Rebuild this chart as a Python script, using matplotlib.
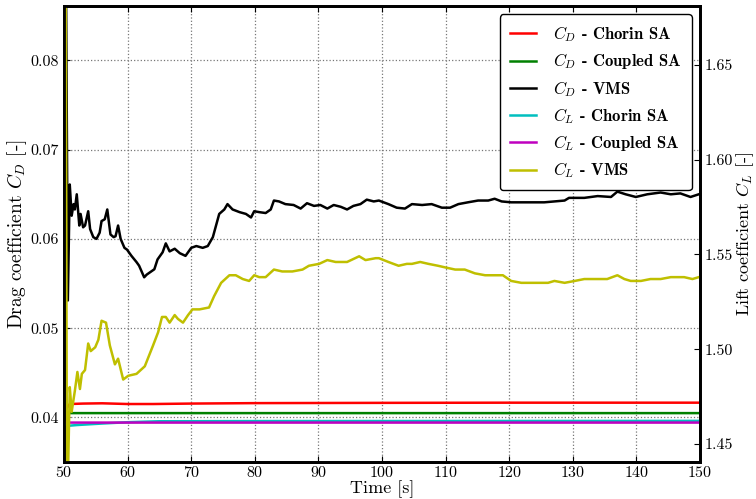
import numpy as np
import matplotlib
matplotlib.use('Agg')
import matplotlib.pyplot as plt

plt.rcParams['font.family'] = 'cmr10'
plt.rcParams['mathtext.fontset'] = 'cm'
plt.rcParams['axes.formatter.use_mathtext'] = True

# drag coefficient, left axis
t_cd_chorin = [50.5, 50.9, 53, 56, 60, 64, 70, 80, 100, 120, 150]
cd_chorin = [0.0411, 0.0415, 0.04155, 0.04158, 0.0415, 0.0415, 0.04155, 0.0416, 0.04163, 0.04165, 0.04165]

t_cd_coupled = [50.5, 51.0, 150]
cd_coupled = [0.0405, 0.04048, 0.04048]

t_cd_vms = [50.3, 50.6, 50.9, 51.2, 51.5, 51.7, 52.0, 52.4, 52.6, 53.0, 53.3, 53.8, 54.1, 54.6, 55.1,
            55.6, 55.9, 56.4, 56.8, 57.3, 57.8, 58.1, 58.5, 58.9, 59.5, 59.9, 60.6, 61.4, 61.8, 62.6,
            63.0, 64.2, 64.7, 65.5, 66.0, 66.6, 67.4, 68.2, 69.1, 70.0, 70.8, 71.8, 72.6, 73.4, 74.4,
            75.2, 75.7, 76.5, 77.6, 78.6, 79.4, 79.9, 80.7, 81.7, 82.5, 83.0, 83.8, 84.8, 86.1, 87.2,
            88.2, 89.3, 90.3, 91.4, 92.4, 93.5, 94.5, 95.5, 96.6, 97.6, 98.7, 99.5, 101.0, 102.3, 103.6,
            104.7, 106.3, 107.8, 109.4, 110.7, 112.0, 113.5, 115.1, 116.7, 117.7, 118.8, 120.3, 122.9,
            125.5, 128.7, 129.4, 131.8, 133.9, 136.0, 137.0, 138.3, 139.9, 141.7, 143.8, 145.4, 146.9,
            148.5, 149.8]
cd_vms = [0.09, 0.0531, 0.0661, 0.0626, 0.0639, 0.0633, 0.0650, 0.0615, 0.0628, 0.0613, 0.0615, 0.0631,
          0.0611, 0.0602, 0.0600, 0.0607, 0.0620, 0.0622, 0.0633, 0.0605, 0.0602, 0.0603, 0.0615, 0.0600,
          0.0590, 0.0588, 0.0581, 0.0574, 0.0570, 0.0557, 0.0560, 0.0566, 0.0577, 0.0585, 0.0595, 0.0586,
          0.0589, 0.0584, 0.0581, 0.0590, 0.0592, 0.0590, 0.0592, 0.0602, 0.0628, 0.0633, 0.0639, 0.0633,
          0.0630, 0.0628, 0.0624, 0.0631, 0.0630, 0.0629, 0.0633, 0.0643, 0.0642, 0.0639, 0.0638, 0.0634,
          0.0640, 0.0637, 0.0638, 0.0634, 0.0638, 0.0636, 0.0633, 0.0637, 0.0639, 0.0644, 0.0642, 0.0643,
          0.0639, 0.0635, 0.0634, 0.0639, 0.0638, 0.0639, 0.0635, 0.0635, 0.0639, 0.0641, 0.0643, 0.0643,
          0.0645, 0.0642, 0.0641, 0.0641, 0.0641, 0.0643, 0.0646, 0.0646, 0.0648, 0.0647, 0.0653, 0.0650,
          0.0647, 0.0650, 0.0652, 0.0650, 0.0651, 0.0647, 0.0650]

# lift coefficient, right axis
t_cl_chorin = [50.0, 50.6, 52, 56, 60, 65, 80, 150]
cl_chorin = [1.4612, 1.4596, 1.4600, 1.4608, 1.4615, 1.4620, 1.4621, 1.4622]

t_cl_coupled = [50.0, 50.5, 51.0, 150]
cl_coupled = [1.4618, 1.4614, 1.4613, 1.4613]

t_cl_vms = [50.0, 50.25, 50.45, 50.6, 50.9, 51.2, 51.7, 52.1, 52.5, 52.8, 53.3, 53.8, 54.2, 54.9, 55.4,
            55.9, 56.6, 57.2, 58.0, 58.5, 59.3, 60.1, 61.4, 62.7, 64.0, 64.8, 65.4, 66.0, 66.6, 67.4,
            67.9, 68.7, 69.5, 70.2, 71.3, 72.8, 73.6, 74.7, 76.0, 77.0, 78.1, 79.1, 79.9, 80.7, 81.7,
            83.0, 84.3, 85.9, 87.5, 88.5, 90.1, 91.4, 92.7, 94.5, 96.4, 97.4, 99.0, 99.5, 101.0, 102.6,
            103.9, 104.7, 106.0, 107.3, 108.8, 110.1, 111.5, 113.0, 114.6, 116.2, 117.7, 119.0, 120.3,
            121.9, 124.0, 126.1, 127.1, 128.7, 130.3, 131.8, 133.9, 135.4, 137.0, 138.1, 139.1, 140.7,
            142.2, 143.8, 145.4, 147.5, 148.8, 149.8]
cl_vms = [1.75, 1.72, 1.43, 1.43, 1.480, 1.467, 1.478, 1.488, 1.479, 1.487, 1.489, 1.503, 1.499, 1.501,
          1.505, 1.515, 1.514, 1.502, 1.492, 1.495, 1.484, 1.486, 1.487, 1.491, 1.502, 1.509, 1.517,
          1.517, 1.514, 1.518, 1.516, 1.514, 1.518, 1.521, 1.521, 1.522, 1.528, 1.535, 1.539, 1.539,
          1.537, 1.536, 1.539, 1.538, 1.538, 1.542, 1.541, 1.541, 1.542, 1.544, 1.545, 1.547, 1.546,
          1.546, 1.549, 1.547, 1.548, 1.548, 1.546, 1.544, 1.545, 1.545, 1.546, 1.545, 1.544, 1.543,
          1.542, 1.542, 1.540, 1.539, 1.539, 1.539, 1.536, 1.535, 1.535, 1.535, 1.536, 1.535, 1.536,
          1.537, 1.537, 1.537, 1.539, 1.537, 1.536, 1.536, 1.537, 1.537, 1.538, 1.538, 1.537, 1.538]

fig = plt.figure(figsize=(7.56, 4.99), dpi=100)
ax = fig.add_axes([0.0847, 0.0741, 0.8413, 0.9139])
ax2 = ax.twinx()

lw = 1.8
l1, = ax.plot(t_cd_chorin, cd_chorin, 'r', lw=lw, label=r'$C_D$ - Chorin SA')
l2, = ax.plot(t_cd_coupled, cd_coupled, 'g', lw=lw, label=r'$C_D$ - Coupled SA')
l3, = ax.plot(t_cd_vms, cd_vms, 'k', lw=lw, label=r'$C_D$ - VMS')
l4, = ax2.plot(t_cl_chorin, cl_chorin, 'c', lw=lw, label=r'$C_L$ - Chorin SA')
l5, = ax2.plot(t_cl_coupled, cl_coupled, 'm', lw=lw, label=r'$C_L$ - Coupled SA')
l6, = ax2.plot(t_cl_vms, cl_vms, 'y', lw=lw, label=r'$C_L$ - VMS')

ax.set_xlim(50, 150)
ax.set_ylim(0.035, 0.0861)
ax2.set_ylim(1.4405, 1.681)
ax.set_xticks(np.arange(50, 151, 10))
ax.set_yticks([0.04, 0.05, 0.06, 0.07, 0.08])
ax.set_yticklabels(['0.04', '0.05', '0.06', '0.07', '0.08'])
ax2.set_yticks([1.45, 1.50, 1.55, 1.60, 1.65])
ax2.set_yticklabels(['1.45', '1.50', '1.55', '1.60', '1.65'])

ax.grid(True, linestyle=':', color='#777777', lw=0.9)
ax.tick_params(direction='in', labelsize=11.5, top=True, length=4)
ax.tick_params(axis='x', pad=2.5)
ax2.tick_params(direction='in', labelsize=11.5, length=4, pad=3)
for a in (ax, ax2):
    for s in a.spines.values():
        s.set_linewidth(2)

ax.set_xlabel('Time [s]', fontsize=13, labelpad=0)
ax.set_ylabel(r'Drag coefficient $C_D$ [-]', fontsize=14, labelpad=1)
ax2.set_ylabel(r'Lift coefficient $C_L$ [-]', fontsize=13, labelpad=1)

leg = ax2.legend(handles=[l1, l2, l3, l4, l5, l6], loc='upper right',
                 prop={'family': 'cmb10', 'size': 12}, handlelength=1.6, labelspacing=0.44,
                 handletextpad=1.0, borderpad=0.6, fancybox=True, framealpha=1)
leg.get_frame().set_edgecolor('black')

plt.savefig('out.png', dpi=100)
